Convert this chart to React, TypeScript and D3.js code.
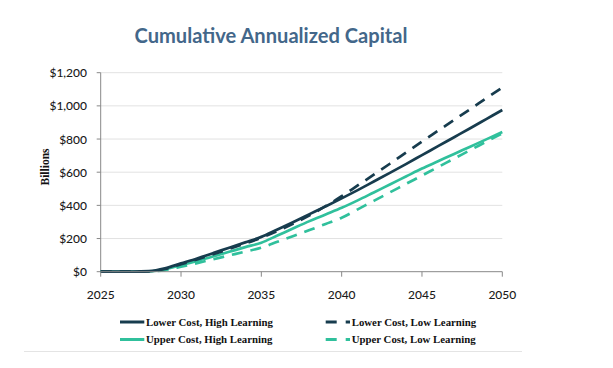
import { curveMonotoneX, line, scaleLinear } from 'd3'

const years = [
	2025, 2026, 2027, 2028, 2029, 2030, 2031, 2032, 2033, 2034, 2035, 2036, 2037,
	2038, 2039, 2040, 2041, 2042, 2043, 2044, 2045, 2046, 2047, 2048, 2049, 2050,
]

// Billions
const lowerHigh = [
	0, 0, 0, 3, 20, 50, 80, 112, 145, 177, 210, 255, 300, 347, 394, 442, 492, 544,
	596, 649, 703, 757, 811, 865, 920, 975,
]
const lowerLow = [
	0, 0, 0, 2, 16, 45, 74, 105, 137, 170, 205, 245, 290, 340, 395, 455, 520, 585,
	651, 718, 785, 850, 915, 980, 1046, 1111,
]
const upperHigh = [
	0, 0, 0, 2, 15, 40, 65, 92, 120, 148, 175, 218, 262, 305, 345, 385, 430, 478,
	526, 574, 622, 666, 710, 754, 798, 843,
]
const upperLow = [
	0, 0, 0, 1, 10, 30, 52, 75, 98, 121, 145, 180, 215, 251, 288, 325, 376, 427,
	478, 529, 580, 631, 682, 733, 784, 835,
]

const yTicks = [0, 200, 400, 600, 800, 1000, 1200]
const xTicks = [2025, 2030, 2035, 2040, 2045, 2050]

const navy = '#173c4e'
const teal = '#30c09c'

const series = [
	{ name: 'Lower Cost, High Learning', values: lowerHigh, color: navy, dashed: false },
	{ name: 'Lower Cost, Low Learning', values: lowerLow, color: navy, dashed: true },
	{ name: 'Upper Cost, High Learning', values: upperHigh, color: teal, dashed: false },
	{ name: 'Upper Cost, Low Learning', values: upperLow, color: teal, dashed: true },
]

const W = 613
const H = 368
const plot = { left: 100.7, right: 502.3, top: 72.7, bottom: 271.7 }

const fmt = (v: number) => '$' + v.toLocaleString('en-US')

export default function App() {
	const x = scaleLinear().domain([2025, 2050]).range([plot.left, plot.right])
	const y = scaleLinear().domain([0, 1200]).range([plot.bottom, plot.top])

	const path = line<number>()
		.x((_, i) => x(years[i]))
		.y((d) => y(d))
		.curve(curveMonotoneX)

	// draw order: teal under navy
	const drawOrder = [3, 2, 1, 0]

	return (
		<svg
			width={W}
			height={H}
			style={{ position: 'absolute', left: 0, top: 0, background: '#fff' }}
		>
			<text
				x={271}
				y={43}
				textAnchor='middle'
				fontFamily='Lato, sans-serif'
				fontWeight={700}
				fontSize={21}
				fill='#43678a'
				textLength={273}
				lengthAdjust='spacingAndGlyphs'
			>
				Cumulative Annualized Capital
			</text>

			{/* grid */}
			{yTicks.map((t) => (
				<g key={t}>
					{t > 0 && (
						<line
							x1={plot.left}
							x2={plot.right}
							y1={y(t)}
							y2={y(t)}
							stroke='#e2e2e2'
							strokeWidth={1}
						/>
					)}
					<line x1={plot.left - 4} x2={plot.left} y1={y(t)} y2={y(t)} stroke='#888' />
					<text
						x={87}
						y={y(t) + 4.5}
						textAnchor='end'
						fontFamily='Lato, sans-serif'
						fontWeight={500}
						fontSize={12}
						fill='#1a1a1a'
					>
						{fmt(t)}
					</text>
				</g>
			))}

			<line x1={plot.left} x2={plot.left} y1={plot.top} y2={plot.bottom} stroke='#888' />

			{/* series */}
			{drawOrder.map((i) => {
				const s = series[i]
				return (
					<path
						key={s.name}
						d={path(s.values) ?? ''}
						fill='none'
						stroke={s.color}
						strokeWidth={2.7}
						strokeDasharray={s.dashed ? '11,8' : undefined}
					/>
				)
			})}

			{/* x axis */}
			<line x1={plot.left} x2={plot.right} y1={plot.bottom} y2={plot.bottom} stroke='#888' />
			{xTicks.map((t) => (
				<g key={t}>
					<line x1={x(t)} x2={x(t)} y1={plot.bottom} y2={plot.bottom + 5} stroke='#888' />
					<text
						x={x(t)}
						y={299}
						textAnchor='middle'
						fontFamily='Lato, sans-serif'
						fontWeight={500}
						fontSize={12}
						fill='#1a1a1a'
					>
						{t}
					</text>
				</g>
			))}

			<text
				transform='translate(49,167) rotate(-90)'
				textAnchor='middle'
				fontFamily='"Liberation Serif", serif'
				fontWeight={700}
				fontSize={11.5}
				fill='#111'
			>
				Billions
			</text>

			{/* legend */}
			{series.map((s) => {
				const col = s.dashed ? 1 : 0
				const row = s.color === navy ? 0 : 1
				const lx = col === 0 ? 120 : 325.7
				const ly = row === 0 ? 322 : 339.5
				return (
					<g key={s.name}>
						<line
							x1={lx}
							x2={lx + 24.3}
							y1={ly}
							y2={ly}
							stroke={s.color}
							strokeWidth={3}
							strokeDasharray={s.dashed ? '11,9' : undefined}
						/>
						<text
							x={lx + 26}
							y={ly + 3.8}
							fontFamily='"Liberation Serif", serif'
							fontWeight={700}
							fontSize={10.8}
							fill='#111'
						>
							{s.name}
						</text>
					</g>
				)
			})}

			<line x1={24} x2={522} y1={351.5} y2={351.5} stroke='#e4e4e4' />
		</svg>
	)
}
